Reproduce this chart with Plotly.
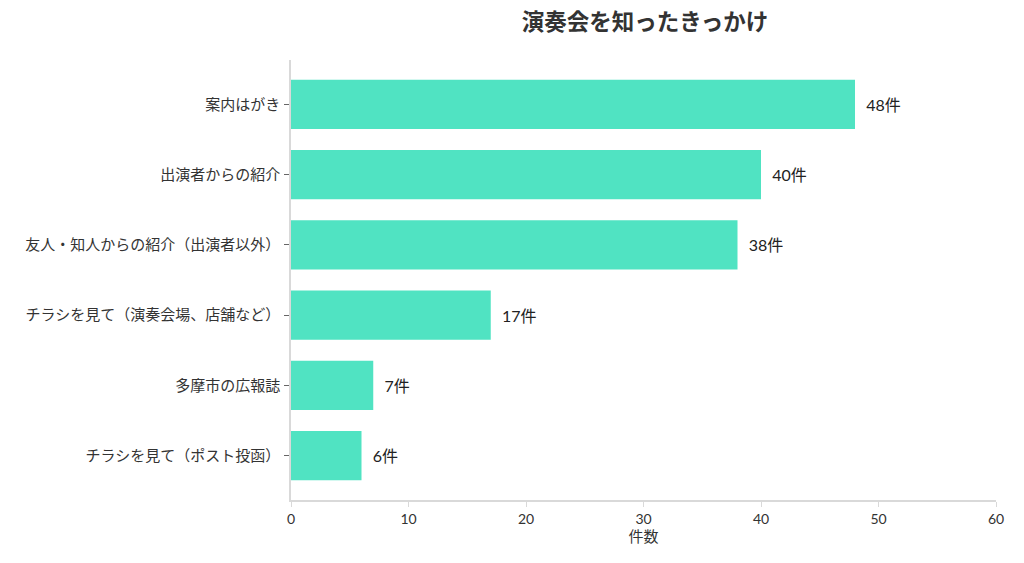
import plotly.graph_objects as go

categories = [
    "案内はがき",
    "出演者からの紹介",
    "友人・知人からの紹介（出演者以外）",
    "チラシを見て（演奏会場、店舗など）",
    "多摩市の広報誌",
    "チラシを見て（ポスト投函）",
]
counts = [48, 40, 38, 17, 7, 6]

FONT = "Lato, 'Noto Sans CJK JP', sans-serif"

fig = go.Figure(go.Bar(
    x=counts,
    y=categories,
    orientation="h",
    marker=dict(color="#50E3C2", line=dict(width=0)),
    width=0.7,
    texttemplate="  %{x}件",
    textposition="outside",
    textfont=dict(size=16, color="#222222", family=FONT),
    cliponaxis=False,
))

fig.update_layout(
    width=1008, height=547,
    paper_bgcolor="white", plot_bgcolor="white",
    margin=dict(l=283, r=16, t=52, b=55),
    font=dict(family=FONT, size=14, color="#333333"),
    title=dict(text="<b>演奏会を知ったきっかけ</b>", x=0.632, xanchor="center",
               y=0.975, yanchor="middle", font=dict(size=22.5, color="#333333", family=FONT)),
    showlegend=False,
)
fig.update_xaxes(
    range=[0, 60], dtick=10, showgrid=False, zeroline=False,
    showline=True, linecolor="#d9d9d9", linewidth=1.5,
    ticks="outside", tickcolor="#d9d9d9", ticklen=5,
    tickfont=dict(size=14, color="#333333"),
    title=dict(text="件数", font=dict(size=15, color="#333333"), standoff=4),
)
fig.update_yaxes(
    categoryorder="array", categoryarray=categories, autorange=False,
    range=[5.63, -0.63], showgrid=False, zeroline=False,
    showline=True, linecolor="#d9d9d9", linewidth=1.5,
    ticks="outside", tickcolor="#666666", ticklen=5,
    ticklabelstandoff=1,
    tickfont=dict(size=15, color="#333333"),
)

fig.write_html("out.html")
